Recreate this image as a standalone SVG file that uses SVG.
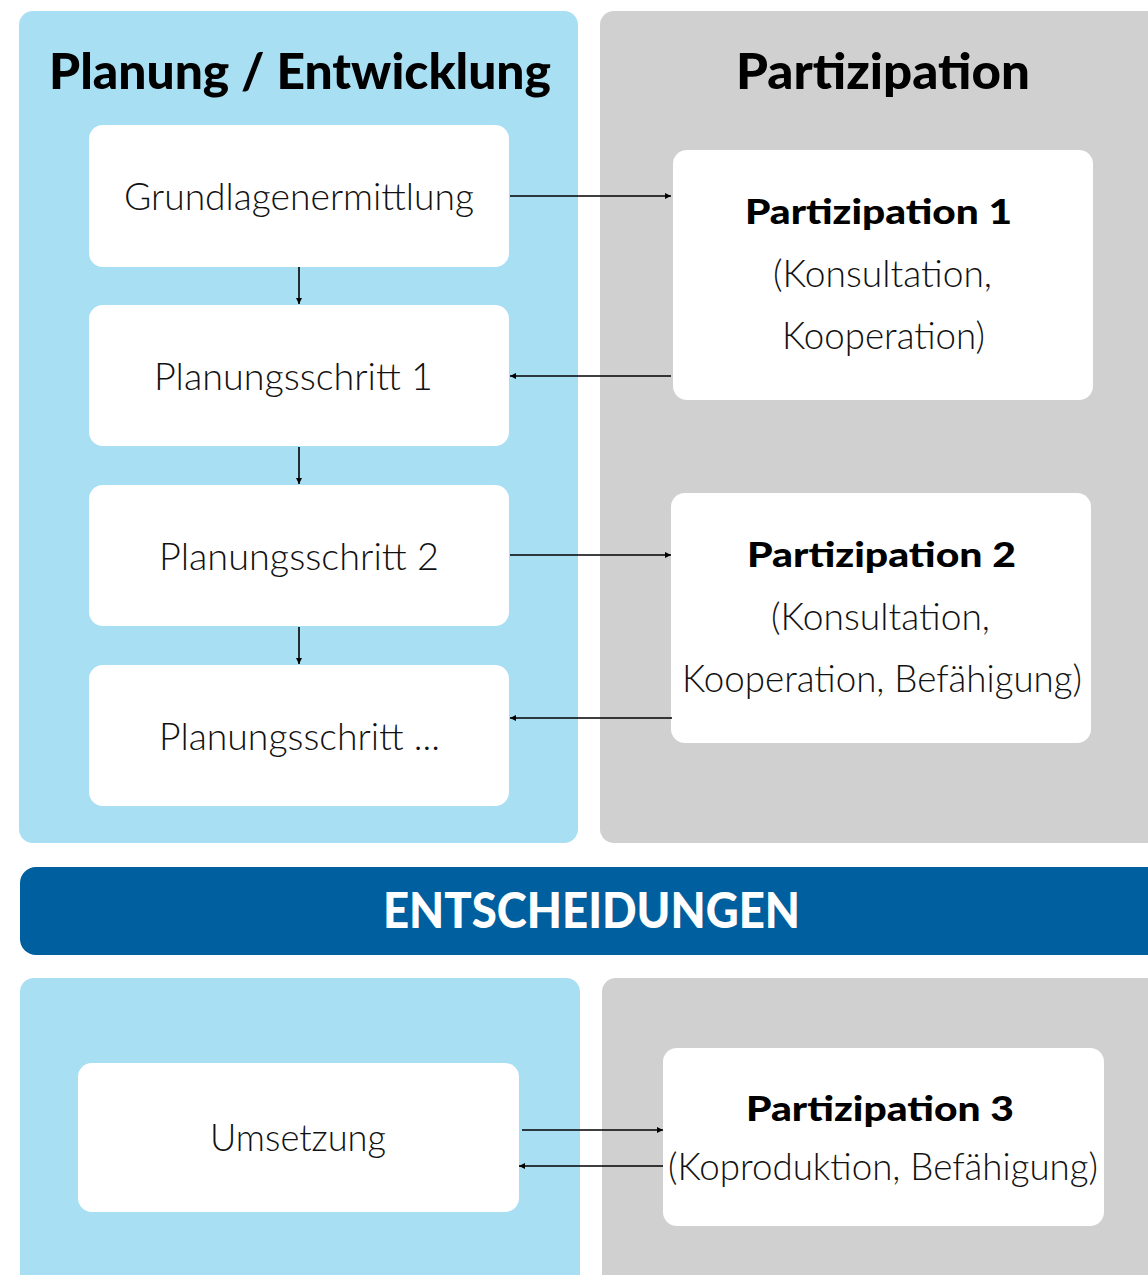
<svg xmlns="http://www.w3.org/2000/svg" width="1148" height="1275" viewBox="0 0 1148 1275">
<style>
.blue{fill:#a8dff3}
.gray{fill:#d0d0d0}
.box{fill:#ffffff}
.h{font-family:"Lato","Open Sans","Liberation Sans",sans-serif;font-weight:900;fill:#000}
.hb{font-family:"Lato","Open Sans","Liberation Sans",sans-serif;font-weight:900;fill:#000;font-size:35px}
.t{font-family:"Lato","Open Sans","Liberation Sans",sans-serif;font-weight:300;fill:#111;font-size:38px}
.con{stroke:#000;stroke-width:1.6;fill:none;marker-end:url(#ah)}
</style>
<defs>
<marker id="ah" markerWidth="8" markerHeight="8" refX="6" refY="3" orient="auto" markerUnits="userSpaceOnUse">
<path d="M0,0 L6,3 L0,6 Z" fill="#000"/>
</marker>
</defs>
<rect width="1148" height="1275" fill="#fff"/>
<g id="panels">
<rect class="blue" x="19" y="11" width="559" height="832" rx="14"/>
<rect class="gray" x="600" y="11" width="570" height="832" rx="14"/>
<rect x="20" y="867" width="1150" height="88" rx="16" fill="#005f9e"/>
<rect class="blue" x="20" y="978" width="560" height="320" rx="14"/>
<rect class="gray" x="602" y="978" width="570" height="320" rx="14"/>
</g>
<g id="headers">
<text class="h" x="49" y="89" font-size="50" textLength="502" lengthAdjust="spacingAndGlyphs">Planung / Entwicklung</text>
<text class="h" x="736" y="89" font-size="50" textLength="294" lengthAdjust="spacingAndGlyphs">Partizipation</text>
<text class="h" x="383" y="928" font-size="50" style="fill:#fff" textLength="417" lengthAdjust="spacingAndGlyphs">ENTSCHEIDUNGEN</text>
</g>
<g id="grundlagen">
<rect class="box" x="89" y="125" width="420" height="142" rx="14"/>
<text class="t" x="124" y="210" textLength="350" lengthAdjust="spacingAndGlyphs">Grundlagenermittlung</text>
</g>
<g id="schritt1">
<rect class="box" x="89" y="305" width="420" height="141" rx="14"/>
<text class="t" x="154" y="390" textLength="279" lengthAdjust="spacingAndGlyphs">Planungsschritt 1</text>
</g>
<g id="schritt2">
<rect class="box" x="89" y="485" width="420" height="141" rx="14"/>
<text class="t" x="159" y="570" textLength="280" lengthAdjust="spacingAndGlyphs">Planungsschritt 2</text>
</g>
<g id="schritt3">
<rect class="box" x="89" y="665" width="420" height="141" rx="14"/>
<text class="t" x="159" y="750" textLength="281" lengthAdjust="spacingAndGlyphs">Planungsschritt ...</text>
</g>
<g id="partizipation1">
<rect class="box" x="673" y="150" width="420" height="250" rx="14"/>
<text class="hb" x="745" y="224" textLength="267" lengthAdjust="spacingAndGlyphs">Partizipation 1</text>
<text class="t" x="773" y="287" textLength="219" lengthAdjust="spacingAndGlyphs">(Konsultation,</text>
<text class="t" x="782" y="349" textLength="203" lengthAdjust="spacingAndGlyphs">Kooperation)</text>
</g>
<g id="partizipation2">
<rect class="box" x="671" y="493" width="420" height="250" rx="14"/>
<text class="hb" x="747" y="567" textLength="269" lengthAdjust="spacingAndGlyphs">Partizipation 2</text>
<text class="t" x="771" y="630" textLength="219" lengthAdjust="spacingAndGlyphs">(Konsultation,</text>
<text class="t" x="682" y="692" textLength="400" lengthAdjust="spacingAndGlyphs">Kooperation, Befähigung)</text>
</g>
<g id="umsetzung">
<rect class="box" x="78" y="1063" width="441" height="149" rx="14"/>
<text class="t" x="210" y="1151" textLength="176" lengthAdjust="spacingAndGlyphs">Umsetzung</text>
</g>
<g id="partizipation3">
<rect class="box" x="663" y="1048" width="441" height="178" rx="14"/>
<text class="hb" x="746" y="1121" textLength="268" lengthAdjust="spacingAndGlyphs">Partizipation 3</text>
<text class="t" x="668" y="1180" textLength="430" lengthAdjust="spacingAndGlyphs">(Koproduktion, Befähigung)</text>
</g>
<g id="connectors">
<line class="con" x1="510" y1="196" x2="671" y2="196"/>
<line class="con" x1="671" y1="376" x2="510" y2="376"/>
<line class="con" x1="510" y1="555" x2="671" y2="555"/>
<line class="con" x1="672" y1="718" x2="510" y2="718"/>
<line class="con" x1="299" y1="267" x2="299" y2="304"/>
<line class="con" x1="299" y1="447" x2="299" y2="484"/>
<line class="con" x1="299" y1="627" x2="299" y2="664"/>
<line class="con" x1="522" y1="1130" x2="663" y2="1130"/>
<line class="con" x1="663" y1="1166" x2="519" y2="1166"/>
</g>
</svg>
